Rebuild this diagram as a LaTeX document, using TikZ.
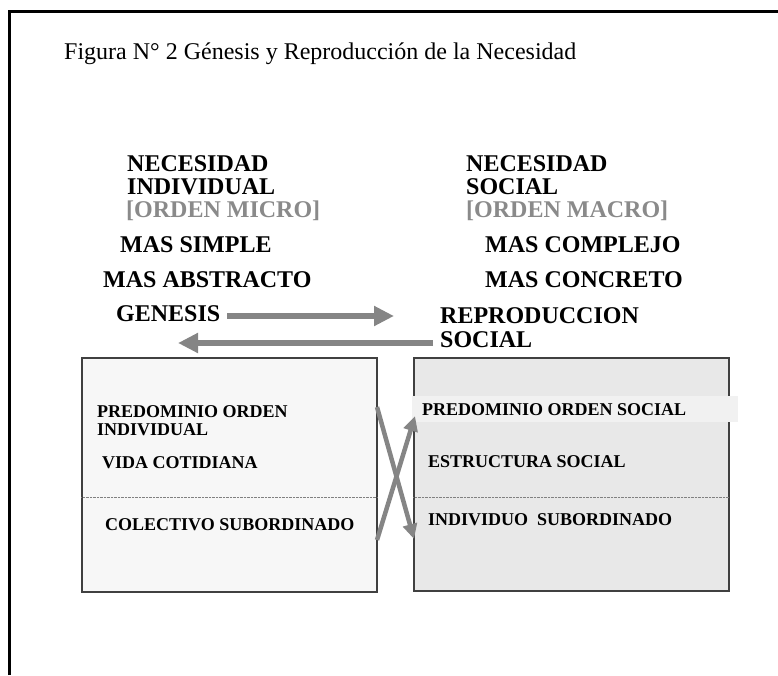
\documentclass[tikz,border=0pt]{standalone}
\usepackage{fontspec}
\setmainfont{Liberation Serif}
\usetikzlibrary{arrows.meta}

\definecolor{arrowgray}{HTML}{858585}
\definecolor{labelgray}{HTML}{8A8A8A}
\definecolor{microfill}{HTML}{F7F7F7}
\definecolor{macrofill}{HTML}{E8E8E8}
\definecolor{hlfill}{HTML}{F1F1F1}

\tikzset{
    big/.style={font=\fontsize{24}{28}\selectfont\bfseries},
    small/.style={font=\fontsize{18}{21}\selectfont\bfseries},
    flow/.style={draw=arrowgray, line width=5.5pt, -{Triangle[length=20pt,width=19pt]}},
    cross/.style={draw=arrowgray, line width=4.5pt, -{Triangle[length=15pt,width=14pt]}},
    panel/.style={rectangle, draw=black!75, line width=1.2pt, inner sep=0pt},
}

\begin{document}
\begin{tikzpicture}[x=1pt, y=-1pt]
        \useasboundingbox (0,0) rectangle (778,675);
        % frame
        \draw[line width=3pt] (9,675) -- (9,11) -- (778,11);
        \node (title) [anchor=base west, inner sep=0pt, font=\fontsize{24}{28}\selectfont] at (64, 59) {Figura N° 2 Génesis y Reproducción de la Necesidad};
        % boxes
        \node (micro) [panel, fill=microfill, minimum width=295pt, minimum height=234pt] at (229.5, 475) {};
        \node (macro) [panel, fill=macrofill, minimum width=315pt, minimum height=233pt] at (571.5, 474.5) {};
        \draw[densely dotted, gray] ([yshift=-22pt]micro.west) -- ([yshift=-22pt]micro.east);
        \draw[densely dotted, gray] ([yshift=-22.5pt]macro.west) -- ([yshift=-22.5pt]macro.east);
        \node (hl) [fill=hlfill, minimum width=326pt, minimum height=26pt, inner sep=0pt, anchor=north west] at (412, 396) {};
        \begin{scope}[every node/.style={anchor=base west, inner sep=0pt, big}]
            \node (nind) at (127, 171) {NECESIDAD};
            \node (ind) at (127, 194) {INDIVIDUAL};
            \node (omicro) [text=labelgray] at (126, 217) {[ORDEN MICRO]};
            \node (simple) at (120, 252) {MAS SIMPLE};
            \node (abstracto) at (103, 287) {MAS ABSTRACTO};
            \node (genesis) at (116, 321) {GENESIS};
            \node (nsoc) at (466, 171) {NECESIDAD};
            \node (soc) at (466, 194) {SOCIAL};
            \node (omacro) [text=labelgray] at (466, 217) {[ORDEN MACRO]};
            \node (complejo) at (485, 252) {MAS COMPLEJO};
            \node (concreto) at (485, 287) {MAS CONCRETO};
            \node (repro) at (440, 323) {REPRODUCCION};
            \node (reprosoc) at (440, 347) {SOCIAL};
        \end{scope}
        \begin{scope}[every node/.style={anchor=base west, inner sep=0pt, small}]
            \node (predind) at (97, 417) {PREDOMINIO ORDEN};
            \node (predind2) at (97, 435) {INDIVIDUAL};
            \node (vida) at (102, 468) {VIDA COTIDIANA};
            \node (colectivo) at (105, 530) {COLECTIVO SUBORDINADO};
            \node (predsoc) at (422, 415) {PREDOMINIO ORDEN SOCIAL};
            \node (estructura) at (428, 467) {ESTRUCTURA SOCIAL};
            \node (individuo) at (428, 525) {INDIVIDUO\ \ SUBORDINADO};
        \end{scope}
        % arrow ends
        \coordinate (gA) at (227, 316);
        \coordinate (gB) at (394, 316);
        \coordinate (rA) at (433, 343);
        \coordinate (rB) at (178, 343);
        \coordinate (dA) at (377, 407);
        \coordinate (dB) at (414, 539);
        \coordinate (uA) at (377, 540);
        \coordinate (uB) at (415, 416);
        \path (gA) edge[flow] (gB);
        \path (rA) edge[flow] (rB);
        \path (dA) edge[cross] (dB);
        \path (uA) edge[cross] (uB);
    \end{tikzpicture}
\end{document}
